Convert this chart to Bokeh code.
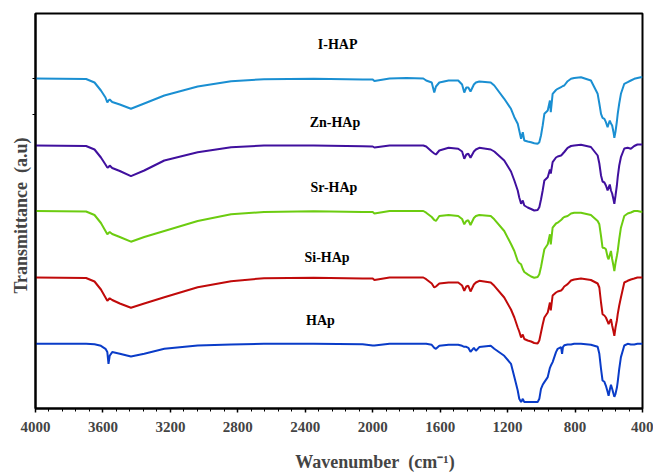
from bokeh.plotting import figure
from bokeh.models import Range1d, FixedTicker, Label, CustomJSTickFormatter
from bokeh.embed import file_html
from bokeh.resources import INLINE

# wavenumber grid (cm-1)
wavenumber = [
    4000, 3700, 3650, 3612, 3585, 3574, 3567, 3560, 3545, 3500,
    3434, 3355, 3236, 3038, 2840, 2645, 2350, 2060, 2000, 1990,
    1900, 1800, 1700, 1683, 1650, 1635, 1625, 1605, 1550, 1493,
    1470, 1457, 1445, 1433, 1420, 1400, 1388, 1368, 1300, 1279,
    1220, 1180, 1160, 1140, 1131, 1120, 1110, 1101, 1081, 1061,
    1042, 1022, 1012, 1002, 992, 982, 962, 949, 944, 933,
    913, 903, 883, 877, 872, 864, 844, 824, 805, 765,
    706, 666, 656, 646, 637, 626, 617, 607, 601, 594,
    587, 580, 572, 567, 560, 552, 547, 538, 528, 508,
    488, 469, 449, 430, 410, 400,
]

# absorption depth below each curve's baseline (a.u.)
i_hap = [
    0, 0.5, 4, 12, 19, 24, 22, 21, 23.5, 26,
    30.3, 25, 17, 8, 2.7, 0.7, 0.3, 1, 1, 2.5,
    0, -0.5, 0, 2, 4, 14, 8, 4, 2, 2,
    6, 14, 9, 9, 13, 6, 4, 3, 4, 7,
    20.3, 30.3, 38.7, 45.3, 52, 60.3, 53.7, 62, 63, 63.7,
    64.7, 65.3, 63.7, 57, 47, 35.3, 32, 22, 33.7, 15.3,
    11.5, 10.3, 8.7, 8, 7.5, 7, 2.7, 0.3, -0.5, -1.3,
    2, 15.3, 25, 35.3, 39.3, 40.3, 43.7, 48.7, 45.3, 42,
    45, 47, 53.7, 59.3, 53, 43, 35.3, 25, 15.3, 5.3,
    3.7, 2, 0.3, -0.5, -1.3, -1.3,
]
zn_hap = [
    0, 0.5, 4, 12, 19, 22, 21.7, 20, 22.5, 25.5,
    30.7, 25, 15, 6.7, 1.7, 0, 0, 0.7, 1, 2,
    0, 0, 0, 1, 6, 8, 9, 5, 2.3, 3.3,
    6, 13.3, 9, 8.3, 12.3, 6, 4, 2.3, 4, 6,
    15, 26, 35, 45, 52, 58.3, 55, 60, 62, 63.5,
    65, 64.5, 61.7, 54, 45, 35, 31.7, 24, 28, 16.7,
    12, 11, 10, 9, 8, 6.5, 2.3, 0.5, 0, -0.7,
    1.5, 10, 18, 30, 36, 37, 40, 45, 42, 39,
    45, 48, 54, 58.3, 50, 40, 31.7, 20, 11.7, 3,
    2.3, 3.3, 0.5, -1, -1, -1,
]
sr_hap = [
    0, 0.5, 4, 12, 20, 23.3, 22, 21, 23, 26,
    30.7, 26, 20, 10, 3.3, 1, 0.3, 1, 1, 2.5,
    0, 0, 0, 1.7, 6, 9, 10, 5, 4, 5,
    8, 13.3, 10, 9.3, 14, 7, 5, 4, 5, 8.3,
    20, 33, 40, 50, 52, 53.3, 58, 61, 63.3, 65.5,
    66.7, 66, 63.3, 56, 47, 38.3, 33.3, 23.3, 33.3, 16.7,
    12.5, 11.7, 9, 8, 7, 6, 5, 2.5, 1.7, 1.7,
    4, 10, 13.3, 25, 36.7, 37, 38.3, 46, 48.3, 44,
    40, 48, 55, 60, 52, 45, 40, 28, 16.7, 5,
    2.5, 1.5, 0, 0, 0.7, 0.7,
]
si_hap = [
    0, 0.5, 4, 12, 20, 23.3, 22, 20.7, 22.5, 26,
    30.3, 26, 19.7, 9.7, 3.7, 0.7, 0.3, 1, 1, 2.5,
    0, 0, 0, 1.7, 6, 10, 9, 6, 5, 5,
    8, 13.3, 9, 8.3, 14, 7, 5, 3.3, 5, 8.3,
    20, 32, 40, 50, 54, 60, 57, 61.5, 63, 64,
    65.5, 66, 63, 55, 47, 40, 35, 25, 33, 18,
    15, 14, 13, 12, 11, 9, 6.7, 3, 2, 1,
    2.5, 6, 10, 25, 36.7, 38, 40, 44, 46.7, 44,
    41.7, 48, 54, 58.3, 50, 43, 36.7, 28, 20, 5,
    3.3, 2, 1, 0, 0, 0,
]
hap = [
    0, 0, 0.5, 2, 5, 8.3, 20, 12, 8.3, 10,
    12.7, 10, 5, 1.7, 0.7, 0, 0, 0.5, 1.7, 1.7,
    0, 0, 0, 0, 1, 4, 5, 2, 1, 1,
    2, 3, 3, 4, 8, 4, 7, 3.3, 2, 5,
    12, 20, 33.3, 46.7, 55, 58.3, 55, 58.3, 58.3, 58.3,
    58.3, 58.3, 55, 45, 41, 38.3, 33.3, 24, 22, 18.3,
    8.3, 5, 3.3, 10, 3.3, 1.5, 0.7, 0.7, 0, 0,
    1, 3, 10, 25, 36.7, 38, 42, 48, 52, 46,
    41, 45, 50, 53, 50, 44, 38, 25, 13.3, 1.7,
    0, 0.7, 0.7, 0, 0, 0,
]

series_names = ["I-HAP", "Zn-HAp", "Sr-HAp", "Si-HAp", "HAp"]
series_depths = [i_hap, zn_hap, sr_hap, si_hap, hap]
series_offsets = [330, 263, 197.5, 131, 64.7]
series_colors = ["#1a8fd2", "#40109e", "#6ccc10", "#c00a0a", "#0a3cc8"]

# label positions (wavenumber, a.u.)
label_x = [2208, 2224, 2230, 2271, 2310]
label_y = [364, 286.3, 221.3, 151.3, 88]

NB = "\u00a0"
x_title = NB * 16 + "Wavenumber" + NB * 2 + "(cm\u207b\u00b9)"
y_title = "Transmittance" + NB * 2 + "(a.u)" + NB * 2

x_ticks = list(range(400, 4001, 400))
x_minor = list(range(400, 4001, 80))
y_ticks = [330, 294]

p = figure(width=653, height=474, x_range=Range1d(4000, 400), y_range=Range1d(0, 395),
           output_backend="svg", toolbar_location=None,
           min_border_left=35, min_border_right=11, min_border_top=13, min_border_bottom=66)
p.title.visible = False
p.background_fill_color = "white"
p.border_fill_color = "white"
p.xgrid.visible = False
p.ygrid.visible = False
p.outline_line_color = "black"
p.outline_line_width = 2

serif = "Liberation Serif"
xa = p.xaxis[0]
xa.ticker = FixedTicker(ticks=x_ticks, minor_ticks=x_minor)
xa.axis_line_width = 2
xa.major_tick_in = 0
xa.major_tick_out = 4
xa.minor_tick_in = 0
xa.minor_tick_out = 3
xa.major_tick_line_width = 1.5
xa.major_label_text_font = serif
xa.major_label_text_font_style = "bold"
xa.major_label_text_font_size = "15px"
xa.major_label_text_line_height = 1.0
xa.major_label_standoff = 9
xa.axis_label = x_title
xa.axis_label_text_font = serif
xa.axis_label_text_font_style = "bold"
xa.axis_label_text_font_size = "18px"
xa.axis_label_text_line_height = 1.0
xa.axis_label_standoff = 17

ya = p.yaxis[0]
ya.ticker = FixedTicker(ticks=y_ticks, minor_ticks=[])
ya.axis_line_width = 2
ya.major_tick_in = 0
ya.major_tick_out = 3
ya.formatter = CustomJSTickFormatter(code="return ''")
ya.major_label_standoff = 0
ya.axis_label = y_title
ya.axis_label_text_font = serif
ya.axis_label_text_font_style = "bold"
ya.axis_label_text_font_size = "18px"
ya.axis_label_standoff = 2

for name, depth, off, col in zip(series_names, series_depths, series_offsets, series_colors):
    ys = [off - d for d in depth]
    p.line(wavenumber, ys, line_color=col, line_width=2)

for name, lx, ly in zip(series_names, label_x, label_y):
    p.add_layout(Label(x=lx, y=ly, text=name, text_align="center", text_baseline="middle",
                       text_font=serif, text_font_style="bold", text_font_size="14px",
                       text_color="black"))

open("out.html", "w").write(file_html(p, INLINE))
